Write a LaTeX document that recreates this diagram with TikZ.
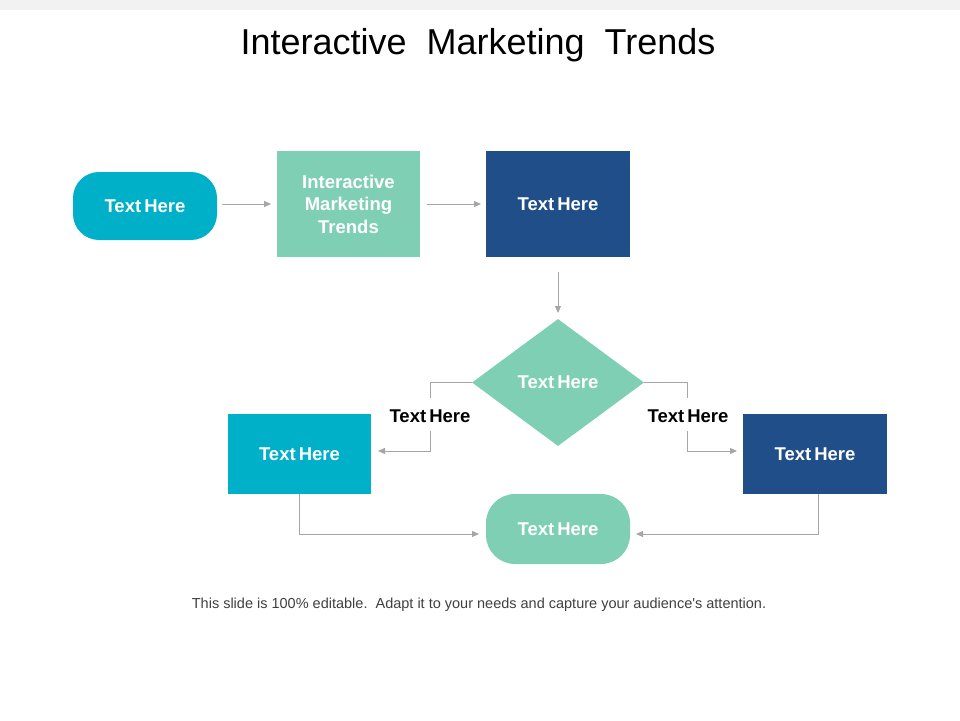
\documentclass[tikz,border=0pt]{standalone}
\usepackage{fontspec}
\setmainfont{Liberation Sans}
\usetikzlibrary{shapes.geometric,arrows.meta}
\definecolor{cyanbox}{HTML}{00B0C8}
\definecolor{greenbox}{HTML}{7FCFB5}
\definecolor{navybox}{HTML}{1F4E89}
\definecolor{linegray}{HTML}{A6A6A6}
\definecolor{bandgray}{HTML}{F2F2F2}
\definecolor{foottext}{HTML}{404040}
\begin{document}
\begin{tikzpicture}[x=1pt,y=-1pt,
  lbl/.style={font=\fontsize{18.5}{22.5}\selectfont\bfseries, text=white, align=center},
  conn/.style={draw=linegray, line width=1pt, -{Triangle[length=7pt,width=6pt]}},
  plain/.style={draw=linegray, line width=1pt},
  blk/.style={font=\fontsize{18.5}{22}\selectfont\bfseries, text=black}
]
\useasboundingbox (0,0) rectangle (960,720);
\fill[white] (0,0) rectangle (960,720);
\fill[bandgray] (0,0) rectangle (960,10);
\node[font=\fontsize{36}{40}\selectfont, anchor=base] (title) at (478,54) {Interactive\ \ Marketing\ \ Trends};

% top row
\node[lbl, fill=cyanbox, rounded corners=26pt, minimum width=144pt, minimum height=68pt] (a) at (145,206) {Text\,Here};
\node[lbl, fill=greenbox, minimum width=143pt, minimum height=106pt] (b) at (348.5,204) {Interactive\\Marketing\\Trends};
\node[lbl, fill=navybox, minimum width=144pt, minimum height=106pt] (c) at (558,204) {Text\,Here};

% diamond
\node[lbl, fill=greenbox, diamond, minimum width=172pt, minimum height=127pt, inner sep=0pt] (d) at (558,382.5) {Text\,Here};

% lower boxes
\node[lbl, fill=cyanbox, minimum width=143pt, minimum height=80pt] (l) at (299.5,454) {Text\,Here};
\node[lbl, fill=navybox, minimum width=144pt, minimum height=80pt] (r) at (815,454) {Text\,Here};
\node[lbl, fill=greenbox, rounded corners=29pt, minimum width=144pt, minimum height=70pt] (e) at (558,529) {Text\,Here};

% branch labels
\node[blk] (ll) at (430,416) {Text\,Here};
\node[blk] (rl) at (688,416) {Text\,Here};

% connector points
\coordinate (a1) at (222,204);
\coordinate (a2) at (271,204);
\coordinate (b1) at (427,204);
\coordinate (b2) at (481,204);
\coordinate (c1) at (558,272);
\coordinate (c2) at (558,313);

\draw[conn] (a1) -- (a2);
\draw[conn] (b1) -- (b2);
\draw[conn] (c1) -- (c2);

% left branch
\coordinate (lk) at (430,382.5);
\coordinate (lt) at (430,398);
\coordinate (lb) at (430,431);
\coordinate (lc) at (430,451);
\coordinate (le) at (378,451);
\draw[plain] (d.west) -- (lk) -- (lt);
\draw[conn] (lb) -- (lc) -- (le);

% right branch
\coordinate (rk) at (687,382.5);
\coordinate (rt) at (687,398);
\coordinate (rb) at (687,431);
\coordinate (rc) at (687,451);
\coordinate (re) at (737,451);
\draw[plain] (d.east) -- (rk) -- (rt);
\draw[conn] (rb) -- (rc) -- (re);

% bottom connectors
\coordinate (lbk) at (299.5,534);
\coordinate (lbe) at (479,534);
\coordinate (rtop) at (818,494);
\coordinate (rbk) at (818,534);
\coordinate (rbe) at (636,534);
\draw[conn] (l.south) -- (lbk) -- (lbe);
\draw[conn] (rtop) -- (rbk) -- (rbe);

\node[font=\fontsize{14.5}{17}\selectfont, text=foottext] (foot) at (479,605) {This slide is 100\% editable.\ \ Adapt it to your needs and capture your audience\textquotesingle s attention.};
\end{tikzpicture}
\end{document}
